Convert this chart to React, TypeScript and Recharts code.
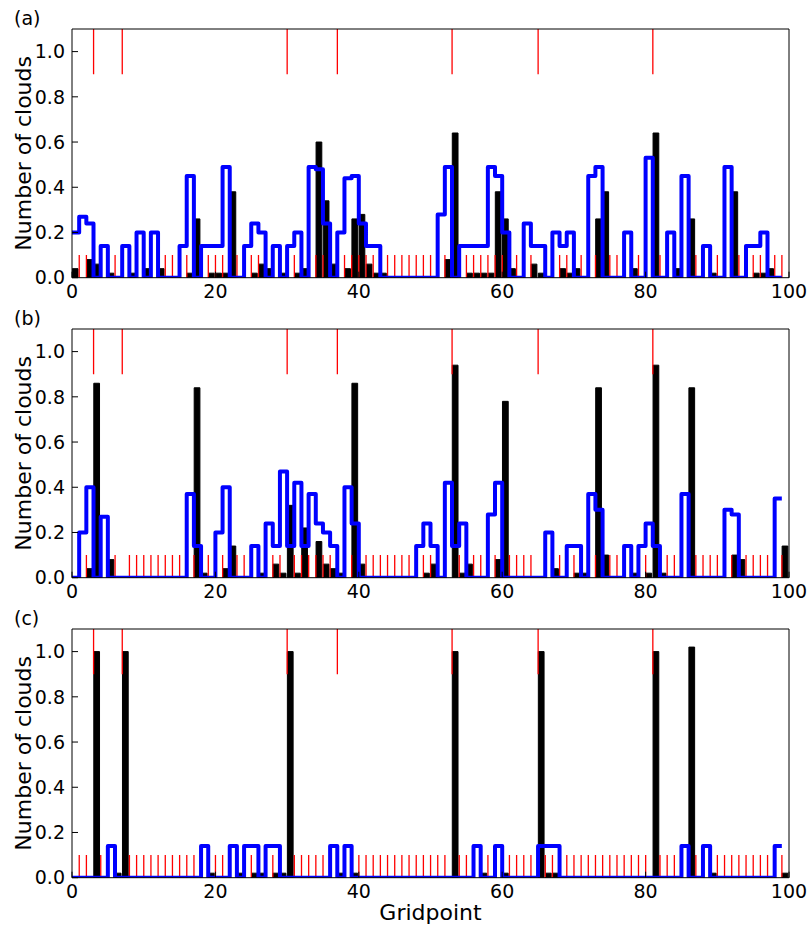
import React from "react";
import { ComposedChart, Bar, Line, XAxis, YAxis } from "recharts";

// gridpoints along the x axis
const GRIDPOINTS = Array.from({ length: 100 }, (_, i) => i);
const X_TICKS = [0, 20, 40, 60, 80, 100];
const Y_TICKS = [0, 0.2, 0.4, 0.6, 0.8, 1.0];

// red markers: tall ones near the top, short ones along the bottom
const TALL_MARKS = [3, 7, 30, 37, 53, 65, 81];
const SHORT_MARKS = [
  1, 2, 4, 5, 6, 8, 9, 10, 11, 12, 13, 14, 15, 16, 17, 18, 19, 20, 21, 22, 23, 24, 25, 26, 27, 28, 29,
  31, 32, 33, 34, 35, 36, 38, 39, 40, 41, 42, 43, 44, 45, 46, 47, 48, 49, 50, 51, 52, 54, 55, 56, 57,
  58, 59, 60, 61, 62, 63, 64, 66, 67, 68, 69, 70, 71, 72, 73, 74, 75, 76, 77, 78, 79, 80, 82, 83, 84,
  85, 86, 87, 88, 89, 90, 91, 92, 93, 94, 95, 96, 97, 98, 99,
];
const SHORT_RANGE = [0, 0.1];
const TALL_RANGE = [0.9, 1.1];

const BARS_A = [
  0.04, 0, 0.08, 0.06, 0, 0.02, 0, 0, 0.02, 0,
  0.04, 0, 0.04, 0, 0, 0, 0.02, 0.26, 0, 0.02,
  0.02, 0.02, 0.38, 0, 0, 0.02, 0.06, 0.04, 0, 0.02,
  0, 0.02, 0.04, 0, 0.6, 0.34, 0.06, 0, 0.04, 0.26,
  0.28, 0.06, 0.02, 0.02, 0, 0, 0, 0, 0, 0,
  0, 0, 0.08, 0.64, 0, 0.02, 0.02, 0.02, 0.02, 0.38,
  0.26, 0.04, 0, 0, 0.06, 0.02, 0, 0, 0.04, 0.02,
  0.04, 0, 0, 0.26, 0.38, 0, 0, 0, 0.04, 0,
  0, 0.64, 0, 0, 0.04, 0, 0.26, 0, 0, 0.02,
  0, 0, 0.38, 0, 0, 0.02, 0.02, 0.04, 0, 0,
];
const BLUE_A = [
  0.2, 0.27, 0.24, 0, 0.14, 0, 0, 0.14, 0, 0.2,
  0, 0.2, 0, 0, 0, 0.14, 0.45, 0, 0.14, 0.14,
  0.14, 0.49, 0, 0, 0.14, 0.24, 0.2, 0, 0.14, 0,
  0.14, 0.2, 0, 0.49, 0.48, 0.24, 0, 0.2, 0.44, 0.45,
  0.24, 0.14, 0.14, 0, 0, 0, 0, 0, 0, 0,
  0, 0.28, 0.49, 0, 0.14, 0.14, 0.14, 0.14, 0.49, 0.45,
  0.2, 0, 0, 0.24, 0.14, 0.14, 0, 0.2, 0.14, 0.2,
  0, 0, 0.45, 0.49, 0, 0, 0, 0.2, 0, 0,
  0.53, 0, 0, 0.2, 0, 0.45, 0, 0, 0.14, 0,
  0, 0.49, 0, 0, 0.14, 0.14, 0.2, 0, 0, 0,
];

const BARS_B = [
  0, 0, 0.04, 0.86, 0, 0.08, 0, 0, 0, 0,
  0, 0, 0, 0, 0, 0, 0, 0.84, 0.02, 0,
  0, 0.04, 0.14, 0, 0, 0, 0.02, 0, 0.06, 0.02,
  0.32, 0.02, 0.22, 0, 0.16, 0.06, 0.04, 0.02, 0, 0.86,
  0.06, 0, 0, 0, 0, 0, 0, 0, 0, 0.02,
  0.06, 0, 0, 0.94, 0.02, 0.06, 0, 0, 0, 0.08,
  0.78, 0, 0, 0, 0, 0, 0, 0.04, 0, 0,
  0.02, 0.02, 0, 0.84, 0.1, 0, 0, 0, 0.02, 0,
  0.02, 0.94, 0.02, 0, 0, 0, 0.84, 0, 0, 0,
  0, 0, 0.1, 0.08, 0, 0, 0, 0, 0, 0.14,
];
const BLUE_B = [
  0, 0.2, 0.4, 0, 0.27, 0, 0, 0, 0, 0,
  0, 0, 0, 0, 0, 0, 0.37, 0.14, 0, 0,
  0.2, 0.4, 0, 0, 0, 0.14, 0, 0.24, 0.14, 0.47,
  0.14, 0.42, 0.14, 0.37, 0.24, 0.2, 0.14, 0, 0.4, 0.24,
  0, 0, 0, 0, 0, 0, 0, 0, 0.14, 0.24,
  0.14, 0, 0.42, 0.14, 0.24, 0, 0, 0, 0.28, 0.42,
  0, 0, 0, 0, 0, 0, 0.2, 0, 0, 0.14,
  0.14, 0, 0.37, 0.3, 0, 0, 0, 0.14, 0, 0.14,
  0.24, 0.14, 0, 0, 0, 0.37, 0, 0, 0, 0,
  0, 0.3, 0.28, 0, 0, 0, 0, 0, 0.35, 0.35,
];

const BARS_C = [
  0, 0, 0, 1.0, 0, 0, 0.02, 1.0, 0, 0,
  0, 0, 0, 0, 0, 0, 0, 0, 0, 0.02,
  0, 0, 0, 0.02, 0, 0.02, 0.02, 0, 0.02, 0.02,
  1.0, 0, 0, 0, 0, 0, 0, 0.02, 0, 0.02,
  0, 0, 0, 0, 0, 0, 0, 0, 0, 0,
  0, 0, 0, 1.0, 0, 0, 0, 0.02, 0, 0,
  0.02, 0, 0, 0, 0, 1.0, 0.02, 0.02, 0, 0,
  0, 0, 0, 0, 0, 0, 0, 0, 0, 0,
  0, 1.0, 0, 0, 0, 0, 1.02, 0, 0, 0.02,
  0, 0, 0, 0, 0, 0, 0, 0, 0, 0.02,
];
const BLUE_C = [
  0, 0, 0, 0, 0, 0.14, 0, 0, 0, 0,
  0, 0, 0, 0, 0, 0, 0, 0, 0.14, 0,
  0, 0, 0.14, 0, 0.14, 0.14, 0, 0.14, 0.14, 0,
  0, 0, 0, 0, 0, 0, 0.14, 0, 0.14, 0,
  0, 0, 0, 0, 0, 0, 0, 0, 0, 0,
  0, 0, 0, 0, 0, 0, 0.14, 0, 0, 0.14,
  0, 0, 0, 0, 0, 0.14, 0.14, 0.14, 0, 0,
  0, 0, 0, 0, 0, 0, 0, 0, 0, 0,
  0, 0, 0, 0, 0, 0.14, 0, 0, 0.14, 0,
  0, 0, 0, 0, 0, 0, 0, 0, 0.14, 0.14,
];

const PANELS = [
  { tag: "(a)", bars: BARS_A, blue: BLUE_A },
  { tag: "(b)", bars: BARS_B, blue: BLUE_B },
  { tag: "(c)", bars: BARS_C, blue: BLUE_C },
];

const W = 810;
const STEP = 300; // vertical distance between panels
const CHART_H = 320;
const LAST_H = 332;
const PLOT_LEFT = 72;
const PLOT_RIGHT = 789;
const PLOT_TOP = 29;
const PLOT_BOTTOM = 277.7;
const BAR_W = 0.8; // bar width in gridpoint units, bars start at the gridpoint
const UNIT = (PLOT_RIGHT - PLOT_LEFT) / 100;
const FONT = "DejaVu Sans";

const tickStyle = { fill: "#000", fontSize: 19, fontFamily: FONT };
const black = { stroke: "#000", strokeWidth: 1 };

const YLabel = () => {
  const cx = 31;
  const cy = (PLOT_TOP + PLOT_BOTTOM) / 2;
  return (
    <text x={cx} y={cy} transform={`rotate(-90 ${cx} ${cy})`} textAnchor="middle" fontSize={22} fontFamily={FONT} fill="#000">
      Number of clouds
    </text>
  );
};

const XLabel = () => (
  <text x={(PLOT_LEFT + PLOT_RIGHT) / 2} y={320} textAnchor="middle" fontSize={22} fontFamily={FONT} fill="#000">
    Gridpoint
  </text>
);

const Panel = ({ tag, bars, blue, last }: { tag: string; bars: number[]; blue: number[]; last: boolean }) => {
  const height = last ? LAST_H : CHART_H;
  const rows = GRIDPOINTS.map((g, i) => ({
    g,
    gb: g + BAR_W / 2,
    bar: bars[i],
    blue: blue[i],
    mark: TALL_MARKS.includes(g) ? TALL_RANGE : SHORT_MARKS.includes(g) ? SHORT_RANGE : null,
  }));

  return (
    <>
      <span style={{ position: "absolute", left: 14, top: 9, fontSize: 19, lineHeight: 1, fontFamily: FONT, zIndex: 2 }}>
        {tag}
      </span>
      <ComposedChart
        width={W}
        height={height}
        data={rows}
        margin={{ top: PLOT_TOP - 1, right: W - PLOT_RIGHT - 1, bottom: 0, left: 0 }}
      >
        <XAxis
          xAxisId="main"
          dataKey="g"
          type="number"
          domain={[0, 100]}
          ticks={X_TICKS}
          allowDataOverflow
          height={height - PLOT_BOTTOM}
          tickSize={-6}
          tickMargin={13}
          tick={tickStyle}
          axisLine={black}
          tickLine={black}
          label={last ? <XLabel /> : undefined}
        />
        <XAxis
          xAxisId="top"
          orientation="top"
          dataKey="g"
          type="number"
          domain={[0, 100]}
          ticks={X_TICKS}
          allowDataOverflow
          height={1}
          tickSize={-6}
          tick={false}
          axisLine={black}
          tickLine={black}
        />
        <XAxis xAxisId="bars" dataKey="gb" type="number" domain={[0, 100]} allowDataOverflow hide height={0} />
        <YAxis
          yAxisId="main"
          type="number"
          domain={[0, 1.1]}
          ticks={Y_TICKS}
          allowDataOverflow
          width={PLOT_LEFT}
          tickSize={-6}
          tickMargin={13}
          tick={tickStyle}
          tickFormatter={(v: number) => v.toFixed(1)}
          axisLine={black}
          tickLine={black}
          label={<YLabel />}
        />
        <YAxis
          yAxisId="right"
          orientation="right"
          type="number"
          domain={[0, 1.1]}
          ticks={Y_TICKS}
          allowDataOverflow
          width={1}
          tickSize={-6}
          tick={false}
          axisLine={black}
          tickLine={black}
        />
        <Bar
          xAxisId="bars"
          yAxisId="main"
          dataKey="bar"
          barSize={UNIT * BAR_W}
          fill="#000"
          stroke="#000"
          strokeWidth={1}
          isAnimationActive={false}
        />
        <Bar xAxisId="main" yAxisId="main" dataKey="mark" barSize={1.3} fill="#ff0000" isAnimationActive={false} />
        <Line
          xAxisId="main"
          yAxisId="main"
          dataKey="blue"
          type="stepAfter"
          stroke="#0000ff"
          strokeWidth={4}
          strokeLinejoin="round"
          dot={false}
          isAnimationActive={false}
        />
      </ComposedChart>
    </>
  );
};

export default function App() {
  return (
    <div style={{ position: "absolute", left: 0, top: 0, width: W, height: 932, background: "#fff", fontFamily: FONT }}>
      {PANELS.map((p, i) => (
        <div key={p.tag} style={{ position: "absolute", left: 0, top: i * STEP, width: W }}>
          <Panel tag={p.tag} bars={p.bars} blue={p.blue} last={i === PANELS.length - 1} />
        </div>
      ))}
    </div>
  );
}
